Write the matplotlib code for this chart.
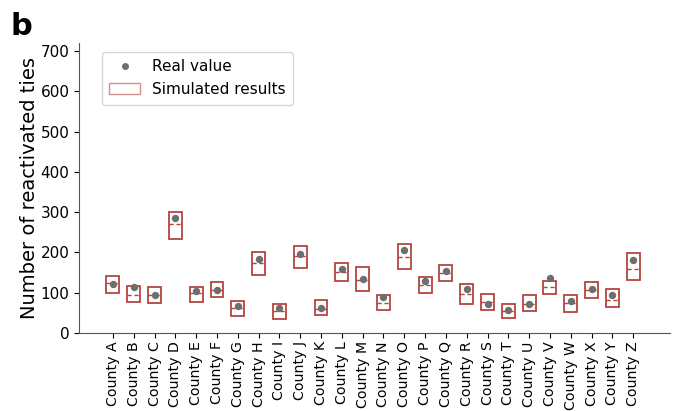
import matplotlib
matplotlib.use("Agg")
import matplotlib.pyplot as plt
import numpy as np
from matplotlib.lines import Line2D
from matplotlib.patches import Patch

counties = ["County " + c for c in "ABCDEFGHIJKLMNOPQRSTUVWXYZ"]

# Observed number of reactivated ties per county
real_value = [121, 113, 93, 285, 104, 106, 66, 183, 61, 195, 61, 158, 133, 88, 206,
              128, 153, 109, 71, 56, 71, 136, 80, 108, 94, 180]

# Spread of simulated results (lower edge, upper edge, median)
sim_low = [100, 76, 74, 233, 76, 88, 41, 145, 34, 162, 44, 129, 105, 58, 158,
           98, 130, 71, 57, 36, 55, 97, 52, 86, 64, 132]
sim_high = [141, 116, 113, 301, 115, 126, 80, 200, 72, 216, 82, 174, 163, 94, 220,
            140, 168, 121, 96, 73, 95, 129, 95, 127, 108, 198]
sim_median = [123, 95, 95, 270, 98, 106, 61, 174, 54, 192, 60, 152, 131, 74, 189,
              119, 150, 96, 78, 54, 72, 115, 74, 106, 83, 160]

box_color = "#b5443f"
point_color = "#6e6e6e"

fig = plt.figure(figsize=(6.77, 4.11), dpi=100)
ax = fig.add_axes([0.117, 0.19, 0.873, 0.706])

x = np.arange(len(counties))
low = np.array(sim_low)
high = np.array(sim_high)
width = 0.62

ax.bar(x, high - low, bottom=low, width=width, fill=False,
       edgecolor=box_color, linewidth=1.3, zorder=2)
ax.hlines(sim_median, x - width / 2, x + width / 2, colors=box_color,
          linestyles=(0, (3, 2)), linewidth=1.0, zorder=2)
ax.plot(x, real_value, "o", color=point_color, markersize=4.3, zorder=3)

ax.set_xlim(-1.62, 26.78)
ax.set_ylim(0, 721)
ax.set_yticks(range(0, 701, 100))
ax.set_xticks(x)
ax.set_xticklabels(counties, rotation=90, fontsize=10.2)
ax.tick_params(axis="x", pad=2.5)
ax.tick_params(axis="y", labelsize=11)
ax.set_ylabel("Number of reactivated ties", fontsize=14, labelpad=1)

for side in ("top", "right"):
    ax.spines[side].set_visible(False)
for side in ("left", "bottom"):
    ax.spines[side].set_color("#555555")

handles = [
    Line2D([], [], marker="o", linestyle="none", color=point_color, markersize=4),
    Patch(facecolor="none", edgecolor=box_color, alpha=0.6, linewidth=1.0),
]
ax.legend(handles, ["Real value", "Simulated results"], loc="upper left",
          bbox_to_anchor=(0.025, 0.995), fontsize=11, frameon=True,
          handlelength=2.0, borderpad=0.5, labelspacing=0.5)

fig.text(0.015, 0.915, "b", fontsize=22, fontweight="bold")

fig.savefig("out.png", dpi=100)
